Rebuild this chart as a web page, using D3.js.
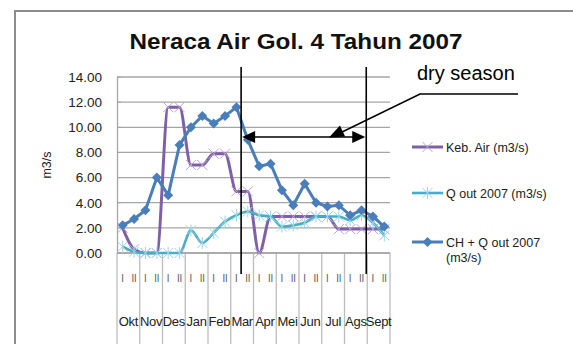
<!DOCTYPE html>
<html><head><meta charset="utf-8">
<script src="https://cdn.jsdelivr.net/npm/d3@7"></script>
<style>body{margin:0;background:#fff}svg{display:block}</style>
</head><body>
<svg id="c" width="573" height="344"></svg>
<script>
const months = ["Okt","Nov","Des","Jan","Feb","Mar","Apr","Mei","Jun","Jul","Ags","Sept"];
const periods = ["I","II"];
const yTicks = [0,2,4,6,8,10,12,14];
const kebAir = [2.0,0.3,0.0,0.0,11.6,11.6,7.0,7.0,7.9,7.9,4.9,4.9,0.0,2.9,2.9,2.9,2.9,2.9,2.9,1.9,1.9,1.9,1.9,1.9];
const qOut   = [0.5,0.1,0.0,0.0,0.0,0.0,1.8,0.8,1.6,2.5,3.0,3.3,3.0,2.9,2.1,2.2,2.4,2.9,2.9,2.9,2.6,3.0,2.4,1.4];
const chQout = [2.2,2.7,3.4,6.0,4.6,8.6,10.0,10.9,10.3,10.9,11.6,9.0,6.9,7.1,5.0,3.8,5.5,4.0,3.7,3.8,3.0,3.4,2.9,2.1];
const seriesNames = ["Keb. Air (m3/s)","Q out 2007 (m3/s)","CH + Q out 2007 (m3/s)"];
const drySeason = {startIndex: 11, endIndex: 22, label: "dry season"};

const cats = [];
months.forEach(m => periods.forEach(p => cats.push(m + "|" + p)));

const svg = d3.select("#c");
const L = 117, R = 390, T = 77, B = 253;
const FONT = "Liberation Sans, Arial, sans-serif";
const x = d3.scaleBand().domain(cats).range([L, R]);
const xm = d3.scaleBand().domain(months).range([L, R]);
const y = d3.scaleLinear().domain([0, 14]).range([B, T]);
const cx = i => x(cats[i]) + x.bandwidth() / 2;

// outer frame
svg.append("path").attr("d", "M15,344 V11 H573").attr("fill", "none")
  .attr("stroke", "#8c8c8c").attr("stroke-width", 2);

// title
svg.append("text").attr("x", 296).attr("y", 49).attr("text-anchor", "middle")
  .attr("font-family", FONT).attr("font-weight", "bold")
  .attr("font-size", 22).attr("textLength", 333).attr("lengthAdjust", "spacingAndGlyphs")
  .attr("fill", "#111").text("Neraca Air Gol. 4 Tahun 2007");

// gridlines
svg.append("g").selectAll("line").data(yTicks).join("line")
  .attr("x1", L).attr("x2", R).attr("y1", d => y(d)).attr("y2", d => y(d))
  .attr("stroke", "#a6a6a6").attr("stroke-width", 1.3);

// y axis
const ya = svg.append("g").attr("transform", `translate(${L},0)`)
  .call(d3.axisLeft(y).tickValues(yTicks).tickFormat(d3.format(".2f")).tickSize(0).tickPadding(15));
ya.select(".domain").attr("stroke", "#a6a6a6").attr("stroke-width", 1.3);
ya.selectAll("text").attr("font-family", FONT).attr("font-size", 13.5).attr("fill", "#222");
svg.append("g").selectAll("line").data(yTicks).join("line")
  .attr("x1", L).attr("x2", L + 4).attr("y1", d => y(d)).attr("y2", d => y(d))
  .attr("stroke", "#a6a6a6");

svg.append("text").attr("transform", "translate(51,165) rotate(-90)").attr("text-anchor", "middle")
  .attr("font-family", FONT).attr("font-size", 12.5).attr("fill", "#222").text("m3/s");

// x axis month separators
const bounds = months.map(m => xm(m)).concat([R]);
svg.append("g").selectAll("line").data(bounds).join("line")
  .attr("x1", d => d).attr("x2", d => d).attr("y1", B).attr("y2", 344)
  .attr("stroke", "#bdbdbd").attr("stroke-width", 1.3);
svg.append("line").attr("x1", L).attr("x2", R).attr("y1", B).attr("y2", B).attr("stroke", "#a6a6a6").attr("stroke-width", 1.3);

svg.append("g").selectAll("text").data(cats).join("text")
  .attr("x", (d, i) => cx(i)).attr("y", 282).attr("text-anchor", "middle")
  .attr("font-family", "DejaVu Sans Condensed, DejaVu Sans, sans-serif").attr("font-size", 10).attr("fill", "#555")
  .text(d => d.split("|")[1]);
svg.append("g").selectAll("text").data(months).join("text")
  .attr("x", d => xm(d) + xm.bandwidth() / 2).attr("y", 326).attr("text-anchor", "middle")
  .attr("font-family", FONT).attr("font-size", 13).attr("fill", "#222")
  .attr("letter-spacing", -0.3).text(d => d);

// series
const colors = ["#7f5fa8", "#4bacc6", "#4a7ebb"];
const mcolors = ["#b7a4d6", "#9ad6e6", "#4a7ebb"];
const data = [kebAir, qOut, chQout];
const curves = [d3.curveMonotoneX, d3.curveMonotoneX, d3.curveLinear];
const widths = [3, 2.6, 3];

function marker(g, type, px, py, col) {
  if (type === 2) {
    g.append("path").attr("d", `M${px},${py-5}L${px+5},${py}L${px},${py+5}L${px-5},${py}Z`).attr("fill", col);
  } else {
    const s = 5;
    let d = `M${px-s},${py-s}L${px+s},${py+s}M${px-s},${py+s}L${px+s},${py-s}`;
    if (type === 1) d += `M${px},${py-s-1}L${px},${py+s+1}`;
    g.append("path").attr("d", d).attr("stroke", col).attr("stroke-width", 1).attr("fill", "none");
  }
}

data.forEach((vals, k) => {
  const g = svg.append("g");
  g.append("path").datum(vals)
    .attr("d", d3.line().x((d, i) => cx(i)).y(d => y(d)).curve(curves[k]))
    .attr("fill", "none").attr("stroke", colors[k]).attr("stroke-width", widths[k]);
  vals.forEach((v, i) => marker(g, k, cx(i), y(v), mcolors[k]));
});

// legend
const legY = [147, 193, 242];
seriesNames.forEach((n, k) => {
  const g = svg.append("g");
  g.append("line").attr("x1", 412).attr("x2", 443).attr("y1", legY[k]).attr("y2", legY[k])
    .attr("stroke", colors[k]).attr("stroke-width", widths[k]);
  marker(g, k, 427.5, legY[k], mcolors[k]);
  const t = g.append("text").attr("x", 446).attr("y", legY[k] + 4.5)
    .attr("font-family", FONT).attr("font-size", 12.5).attr("fill", "#222");
  if (k === 2) {
    t.append("tspan").attr("x", 446).text("CH + Q out 2007");
    t.append("tspan").attr("x", 446).attr("dy", 15).text("(m3/s)");
  } else t.text(n);
});

// dry season annotation
const xa = x(cats[drySeason.startIndex]) - 1;
const xb = x(cats[drySeason.endIndex]) - 1;
const ann = svg.append("g").attr("stroke", "#000").attr("stroke-width", 1.6);
[xa, xb].forEach(v => ann.append("line").attr("x1", v).attr("x2", v).attr("y1", 67).attr("y2", 274));
const ay = 137;
ann.append("line").attr("x1", xa + 12).attr("x2", xb - 12).attr("y1", ay).attr("y2", ay);
svg.append("path").attr("d", `M${xa+1},${ay}L${xa+14},${ay-6}L${xa+14},${ay+6}Z`).attr("fill", "#000");
svg.append("path").attr("d", `M${xb-1},${ay}L${xb-14},${ay-6}L${xb-14},${ay+6}Z`).attr("fill", "#000");
// callout
ann.append("path").attr("d", `M518,94 H420 L340,133`).attr("fill", "none");
{
  const tx = 329, ty = 137.5, ang = Math.atan2(94 - 137.5, 420 - 329);
  const len = 15, hw = 6;
  const bx = tx + len * Math.cos(ang), by = ty + len * Math.sin(ang);
  const nx = -Math.sin(ang) * hw, ny = Math.cos(ang) * hw;
  svg.append("path").attr("d", `M${tx},${ty}L${bx+nx},${by+ny}L${bx-nx},${by-ny}Z`).attr("fill", "#000");
}
svg.append("text").attr("x", 417).attr("y", 80).attr("font-family", FONT)
  .attr("font-size", 20).attr("fill", "#000").text(drySeason.label);
</script>
</body></html>
